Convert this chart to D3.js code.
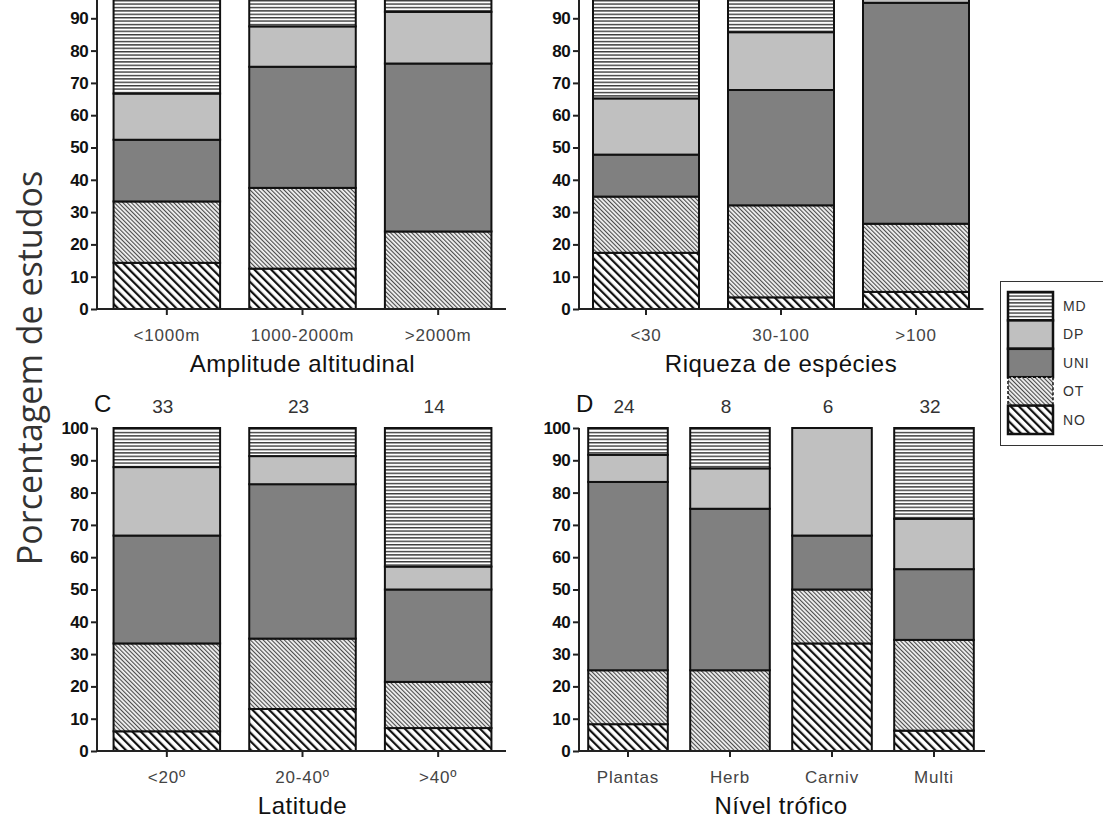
<!DOCTYPE html>
<html>
<head>
<meta charset="utf-8">
<script src="https://cdn.jsdelivr.net/npm/d3@7/dist/d3.min.js"></script>
<style>
  html, body { margin: 0; padding: 0; background: #fff; }
  svg { display: block; }
</style>
</head>
<body>
<div id="chart"></div>
<script>
// series, bottom to top of each stack
const series = ['NO', 'OT', 'UNI', 'DP', 'MD'];
const legendOrder = ['MD', 'DP', 'UNI', 'OT', 'NO'];

// A - Amplitude altitudinal
const altCats = ['<1000m', '1000-2000m', '>2000m'];
const altNO  = [14.3, 12.5, 0];
const altOT  = [19.0, 25.0, 24.0];
const altUNI = [19.1, 37.5, 52.0];
const altDP  = [14.3, 12.5, 16.0];
const altMD  = [33.3, 12.5, 8.0];

// B - Riqueza de espécies
const riqCats = ['<30', '30-100', '>100'];
const riqNO  = [17.4, 3.6, 5.3];
const riqOT  = [17.4, 28.5, 21.1];
const riqUNI = [13.0, 35.7, 68.4];
const riqDP  = [17.4, 17.9, 5.2];
const riqMD  = [34.8, 14.3, 0];

// C - Latitude
const latCats = ['<20º', '20-40º', '>40º'];
const latN   = [33, 23, 14];
const latNO  = [6.1, 13.0, 7.1];
const latOT  = [27.2, 21.8, 14.3];
const latUNI = [33.4, 47.8, 28.6];
const latDP  = [21.2, 8.7, 7.1];
const latMD  = [12.1, 8.7, 42.9];

// D - Nível trófico
const trofCats = ['Plantas', 'Herb', 'Carniv', 'Multi'];
const trofN   = [24, 8, 6, 32];
const trofNO  = [8.3, 0, 33.3, 6.3];
const trofOT  = [16.7, 25.0, 16.7, 28.1];
const trofUNI = [58.3, 50.0, 16.7, 21.9];
const trofDP  = [8.4, 12.5, 33.3, 15.6];
const trofMD  = [8.3, 12.5, 0, 28.1];

// top row is cut at the top edge, so its 100 tick is not shown
const yTicksTop = d3.range(0, 91, 10);
const yTicksBottom = d3.range(0, 101, 10);

function rows(cats, no, ot, uni, dp, md) {
  return cats.map((c, i) => ({cat: c, NO: no[i], OT: ot[i], UNI: uni[i], DP: dp[i], MD: md[i]}));
}

const width = 1103, height = 823;
const svg = d3.select('#chart').append('svg')
  .attr('width', width)
  .attr('height', height)
  .style('font-family', '"Liberation Sans", Arial, sans-serif');

// ----------------------------------
// fill patterns
// ----------------------------------
const defs = svg.append('defs');

const pMD = defs.append('pattern').attr('id', 'pat-MD')
  .attr('patternUnits', 'userSpaceOnUse').attr('width', 6).attr('height', 3.4);
pMD.append('rect').attr('width', 6).attr('height', 3.4).attr('fill', '#fff');
pMD.append('rect').attr('y', 0).attr('width', 6).attr('height', 1.4).attr('fill', '#3a3a3a');

const pOT = defs.append('pattern').attr('id', 'pat-OT')
  .attr('patternUnits', 'userSpaceOnUse').attr('width', 3).attr('height', 6)
  .attr('patternTransform', 'rotate(-45)');
pOT.append('rect').attr('width', 3).attr('height', 6).attr('fill', '#f2f2f2');
pOT.append('rect').attr('width', 1.1).attr('height', 6).attr('fill', '#4a4a4a');

const pNO = defs.append('pattern').attr('id', 'pat-NO')
  .attr('patternUnits', 'userSpaceOnUse').attr('width', 5.9).attr('height', 6)
  .attr('patternTransform', 'rotate(-45)');
pNO.append('rect').attr('width', 5.9).attr('height', 6).attr('fill', '#fff');
pNO.append('rect').attr('width', 2.2).attr('height', 6).attr('fill', '#111');

const fills = {
  NO: 'url(#pat-NO)',
  OT: 'url(#pat-OT)',
  UNI: '#808080',
  DP: '#c0c0c0',
  MD: 'url(#pat-MD)'
};

// ----------------------------------
// panels
// ----------------------------------
const yTop = d3.scaleLinear().domain([0, 100]).range([309, -14]);
const yBottom = d3.scaleLinear().domain([0, 100]).range([751, 428]);

const panels = [
  {data: rows(altCats, altNO, altOT, altUNI, altDP, altMD), cats: altCats, y: yTop, ticks: yTicksTop,
   axisX: 97, range: [99, 506], title: 'Amplitude altitudinal', letter: null, counts: null},
  {data: rows(riqCats, riqNO, riqOT, riqUNI, riqDP, riqMD), cats: riqCats, y: yTop, ticks: yTicksTop,
   axisX: 579, range: [578.5, 983.5], title: 'Riqueza de espécies', letter: null, counts: null},
  {data: rows(latCats, latNO, latOT, latUNI, latDP, latMD), cats: latCats, y: yBottom, ticks: yTicksBottom,
   axisX: 97, range: [99, 506], title: 'Latitude', letter: 'C', counts: latN},
  {data: rows(trofCats, trofNO, trofOT, trofUNI, trofDP, trofMD), cats: trofCats, y: yBottom, ticks: yTicksBottom,
   axisX: 579, range: [577, 985], title: 'Nível trófico', letter: 'D', counts: trofN}
];

const stack = d3.stack().keys(series);

panels.forEach(p => {
  const x = d3.scaleBand().domain(p.cats).range(p.range).paddingInner(0.2).paddingOuter(0.1);
  const y = p.y;
  const g = svg.append('g');

  // bars
  const layers = stack(p.data);
  layers.forEach(layer => {
    g.selectAll(null)
      .data(layer.filter(d => d[1] - d[0] > 0))
      .enter()
      .append('rect')
      .attr('x', d => x(d.data.cat) + 1)
      .attr('width', x.bandwidth() - 2)
      .attr('y', d => y(d[1]))
      .attr('height', d => y(d[0]) - y(d[1]))
      .attr('fill', fills[layer.key])
      .attr('stroke', '#111')
      .attr('stroke-width', 2);
  });

  // y axis (line drawn up to 100 even where the tick label is cut)
  const yAxis = d3.axisLeft(y).tickValues(p.ticks).tickSize(6).tickSizeOuter(0).tickPadding(3);
  const ya = g.append('g')
    .attr('transform', `translate(${p.axisX},0)`)
    .call(yAxis);
  ya.select('.domain').remove();
  ya.append('line')
    .attr('y1', y(0) + 1).attr('y2', y(100))
    .attr('stroke', '#222').attr('stroke-width', 2);
  ya.selectAll('.tick line').attr('stroke', '#222').attr('stroke-width', 2);
  ya.selectAll('.tick text')
    .attr('fill', '#111')
    .style('font-size', '17px')
    .style('font-weight', 'bold')
    .style('letter-spacing', '-0.6px');

  // x axis
  const y0 = y(0);
  const xAxis = d3.axisBottom(x).tickSize(6).tickSizeOuter(0).tickPadding(14);
  const xa = g.append('g')
    .attr('transform', `translate(0,${y0})`)
    .call(xAxis);
  xa.select('.domain').remove();
  xa.append('line')
    .attr('x1', p.axisX - 1).attr('x2', p.range[1])
    .attr('stroke', '#222').attr('stroke-width', 2);
  xa.selectAll('.tick line').attr('stroke', '#222').attr('stroke-width', 2);
  xa.selectAll('.tick text')
    .attr('fill', '#444')
    .style('font-size', '17px')
    .style('letter-spacing', '0.8px');

  // axis title
  g.append('text')
    .attr('x', (p.range[0] + p.range[1]) / 2)
    .attr('y', y0 + 63)
    .attr('text-anchor', 'middle')
    .attr('fill', '#111')
    .style('font-size', '24px')
    .style('letter-spacing', '0.5px')
    .text(p.title);

  // panel letter and sample sizes
  if (p.letter) {
    g.append('text')
      .attr('x', p.axisX - 3)
      .attr('y', y(100) - 16)
      .attr('fill', '#111')
      .style('font-size', '24px')
      .text(p.letter);
  }
  if (p.counts) {
    g.selectAll(null)
      .data(p.counts)
      .enter()
      .append('text')
      .attr('x', (d, i) => x(p.cats[i]) + x.bandwidth() / 2 - 4)
      .attr('y', y(100) - 15)
      .attr('text-anchor', 'middle')
      .attr('fill', '#333')
      .style('font-size', '19px')
      .text(d => d);
  }
});

// ----------------------------------
// y title
// ----------------------------------
svg.append('text')
  .attr('transform', 'translate(42,368) rotate(-90)')
  .attr('text-anchor', 'middle')
  .attr('fill', '#333')
  .style('font-family', '"Open Sans", sans-serif')
  .style('font-size', '34px')
  .text('Porcentagem de estudos');

// ----------------------------------
// legend
// ----------------------------------
const legend = svg.append('g').attr('transform', 'translate(1000,281)');
legend.append('rect')
  .attr('x', 0.5).attr('y', 0.5)
  .attr('width', 130).attr('height', 164)
  .attr('fill', '#fff')
  .attr('stroke', '#333')
  .attr('stroke-width', 1);

const ly = d3.scaleBand().domain(legendOrder).range([11, 153]);
const item = legend.selectAll('g.item')
  .data(legendOrder)
  .enter()
  .append('g')
  .attr('class', 'item')
  .attr('transform', d => `translate(0,${ly(d)})`);

item.append('rect')
  .attr('x', 8).attr('y', 0)
  .attr('width', 45).attr('height', ly.bandwidth())
  .attr('fill', d => fills[d])
  .attr('stroke', '#111')
  .attr('stroke-width', d => d === 'OT' ? 1.5 : 2.5)
  .attr('stroke-dasharray', d => d === 'OT' ? '3,2' : null);

item.append('text')
  .attr('x', 63)
  .attr('y', ly.bandwidth() / 2)
  .attr('dy', '0.35em')
  .attr('fill', '#333')
  .style('font-size', '14px')
  .style('letter-spacing', '0.8px')
  .text(d => d);
</script>
</body>
</html>
